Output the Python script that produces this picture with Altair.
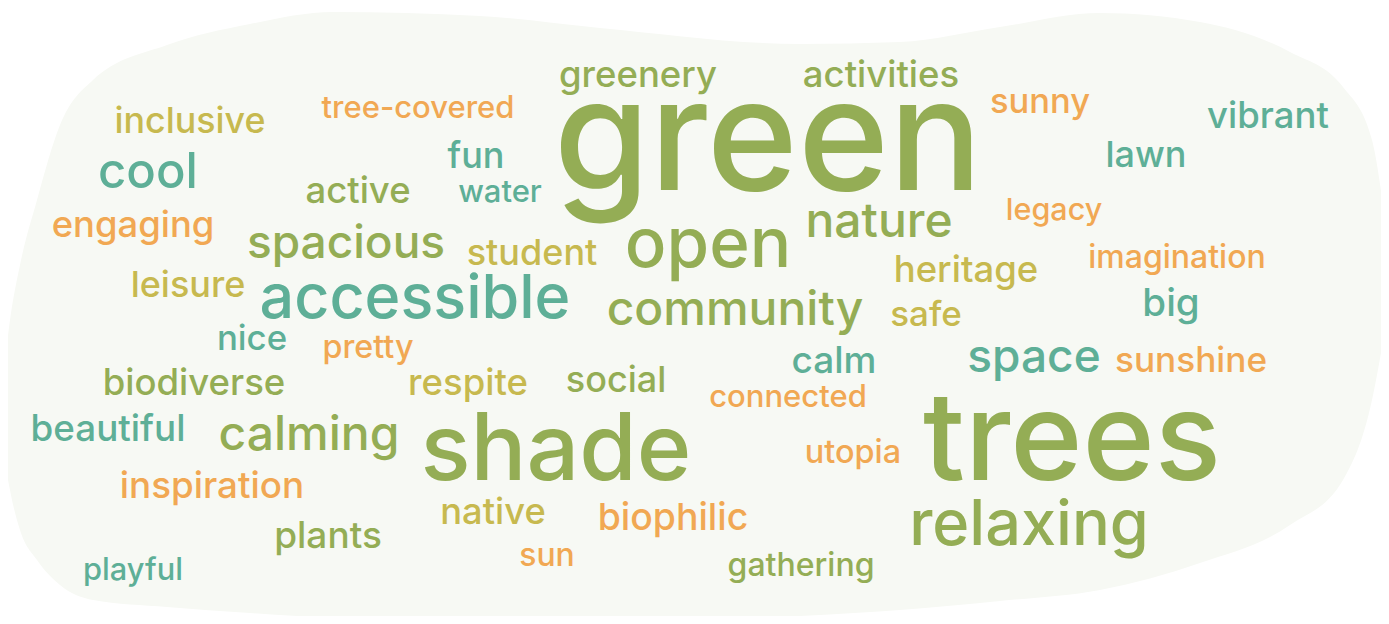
import altair as alt
import pandas as pd

# ---- word cloud data (image coordinates: centre x, baseline y, font size, colour group)
words = ["green", "trees", "shade", "open", "accessible", "relaxing", "community",
         "nature", "spacious", "calming", "space", "cool", "greenery", "activities",
         "inclusive", "tree-covered", "sunny", "vibrant", "fun", "lawn", "active",
         "water", "legacy", "engaging", "student", "heritage", "imagination", "leisure",
         "safe", "big", "nice", "pretty", "calm", "sunshine", "biodiverse", "respite",
         "social", "connected", "beautiful", "utopia", "inspiration", "native",
         "biophilic", "plants", "sun", "gathering", "playful"]
word_x = [768, 1072, 556, 708, 415, 1029, 735,
          879, 346, 309, 1034, 148, 638, 881,
          190, 418, 1040, 1268, 476, 1146, 358,
          500, 1054, 133, 532, 966, 1177, 188,
          926, 1171, 252, 368, 834, 1191, 194, 468,
          616, 788, 108, 853, 212, 493,
          673, 328, 547, 801, 133]
word_y = [190, 480, 480, 267, 318, 545, 325,
          237, 258, 450, 372, 188, 87, 87,
          133, 118, 113, 128, 168, 167, 203,
          202, 220, 237, 265, 282, 268, 297,
          326, 316, 350, 358, 373, 372, 395, 395,
          392, 407, 441, 463, 498, 524,
          530, 548, 566, 576, 580]
word_size = [155, 123, 93, 69, 61, 63, 48,
             48, 46, 48, 46, 49, 36.5, 36.5,
             35.8, 31, 34.5, 36.5, 36, 36, 36.5,
             31, 30.5, 36.4, 36, 36.5, 32, 36,
             35, 38.5, 34.8, 32.3, 37, 35.2, 36.5, 36.5,
             36, 31, 36.8, 32.4, 36.8, 36.3,
             37.4, 37, 31.9, 32, 30.8]
word_group = ["olive", "olive", "olive", "olive", "teal", "olive", "olive",
              "olive", "olive", "olive", "teal", "teal", "olive", "olive",
              "gold", "orange", "orange", "teal", "teal", "teal", "olive",
              "teal", "orange", "orange", "gold", "gold", "orange", "gold",
              "gold", "teal", "teal", "orange", "teal", "orange", "olive", "gold",
              "olive", "orange", "teal", "orange", "orange", "gold",
              "orange", "olive", "orange", "olive", "teal"]

groups = ["olive", "teal", "orange", "gold"]
group_colors = ["#94ad55", "#5eaf97", "#f1a853", "#c7b94f"]

# ---- background blob outline (image coordinates)
blob_x = [0, 5, 10, 20, 37, 60, 93, 167, 250, 333, 480, 600, 800, 900, 1000,
          1100, 1200, 1290, 1343, 1372, 1385]
blob_top = [400, 360, 320, 265, 200, 125, 80, 45, 24, 12, 16, 28, 44, 42, 27,
            13, 22, 52, 87, 140, 220]
blob_bottom = [400, 460, 490, 530, 560, 585, 600, 607, 613, 618, 623, 623, 616,
               610, 601, 590, 563, 525, 480, 400, 330]

words_df = pd.DataFrame({"word": words, "x": word_x, "y": word_y,
                         "size": word_size, "group": word_group})
blob_df = pd.DataFrame({"x": blob_x, "top": blob_top, "bottom": blob_bottom})

W, H = 1373, 608
xs = alt.Scale(domain=[8, 8 + W], nice=False, zero=False)
ys = alt.Scale(domain=[8, 8 + H], nice=False, zero=False, reverse=True)

blob = alt.Chart(blob_df).mark_area(
    color="#f7f9f4", interpolate="monotone", clip=False
).encode(
    x=alt.X("x:Q", scale=xs, axis=None),
    y=alt.Y("top:Q", scale=ys, axis=None),
    y2="bottom:Q",
)

text = alt.Chart(words_df).mark_text(
    font="Inter", fontWeight=500, align="center", baseline="alphabetic", clip=False
).encode(
    x=alt.X("x:Q", scale=xs, axis=None),
    y=alt.Y("y:Q", scale=ys, axis=None),
    text="word:N",
    size=alt.Size("size:Q", scale=None, legend=None),
    color=alt.Color("group:N", scale=alt.Scale(domain=groups, range=group_colors),
                    legend=None),
)

chart = alt.layer(blob, text).properties(
    width=W, height=H, padding=0, autosize=alt.AutoSizeParams(type="none"),
    background="white"
).configure_view(stroke=None)

chart.save("out.html", embed_options={"renderer": "svg", "actions": False})
